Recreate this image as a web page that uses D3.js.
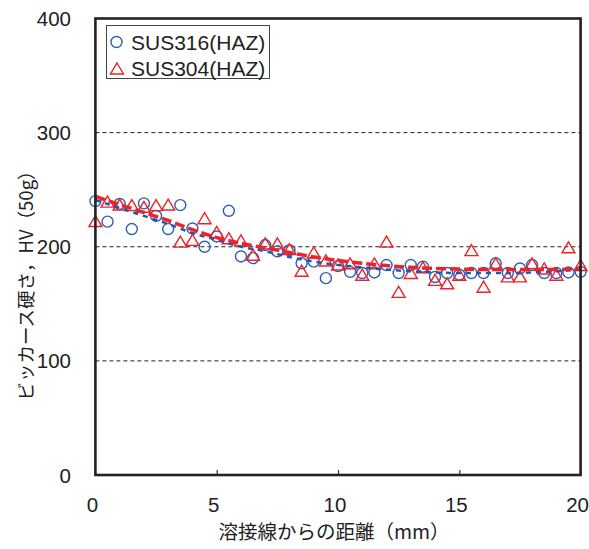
<!DOCTYPE html>
<html><head><meta charset="utf-8">
<script src="https://cdn.jsdelivr.net/npm/d3@7"></script>
<style>body{margin:0;background:#fff}svg{display:block}</style>
</head><body>
<svg id="c" width="589" height="549"></svg>
<script>
// distances (mm) of measurement points
const distances = d3.range(0, 41).map(i => i * 0.5);
const sus316 = [240,222,237.5,215.5,238,227,215.5,236.5,216,200,209,231.5,191.5,190,201.5,196,197,185.5,187,172.5,183,178,177,177.5,184,177,184,182.5,173.5,177,175.5,177,177,185.5,177,181,184,177,177,177.5,178];
const sus304 = [222.5,239.5,237,236.5,235,236.5,237,204.5,206,225,213,207.5,205.5,193,203,203,198,179,195,188,184.5,185.5,175.5,185.5,204.5,160.5,177,182,171,168,175.5,197,165,185.5,174,174,185.5,181,175.5,199.5,184];
// trend lines
const trendX = d3.range(0, 21);
const trend316 = [241,234,227,220,212,206,200,196,191,187,184,182,180,178.5,177.5,177,177,177,177.5,178.5,180];
const trend304 = [244,237,230,223,215,208,203,199,195,191,188,185.5,183.5,182,181,180.5,180,180,180,180,181];
const xTicks = [0,5,10,15,20];
const yTicks = [0,100,200,300,400];
const seriesNames = ["SUS316(HAZ)","SUS304(HAZ)"];
const xTitle = "溶接線からの距離（mm）";
const yTitle = "ビッカース硬さ，HV（50g）";

const blue = "#2f5fb3", red = "#ec2328";
const svg = d3.select("#c");
const x = d3.scaleLinear().domain([0,20]).range([95.4,580.6]);
const y = d3.scaleLinear().domain([0,400]).range([475,18.5]);
const numFont = "'Liberation Sans', Arial, sans-serif";
const cjkFont = "'Noto Sans CJK JP', sans-serif";

// grid
svg.append("g").selectAll("line").data([100,200,300]).join("line")
  .attr("x1", x(0)).attr("x2", x(20)).attr("y1", d => y(d)).attr("y2", d => y(d))
  .attr("stroke", "#222").attr("stroke-width", 1).attr("stroke-dasharray", "4,3");

// x axis ticks (inside)
const xAxis = d3.axisBottom(x).tickValues([5,10,15]).tickSize(-5).tickFormat("");
const gx = svg.append("g").attr("transform", `translate(0,${y(0)})`).call(xAxis);
gx.select(".domain").remove();
gx.selectAll("line").attr("stroke", "#333").attr("stroke-width", 1.2);

// tick labels
svg.append("g").selectAll("text").data(xTicks).join("text")
  .attr("x", d => x(d) - 3).attr("y", 512)
  .attr("text-anchor", "middle").attr("font-family", numFont).attr("font-size", 20.5)
  .attr("fill", "#222").text(d => d);
svg.append("g").selectAll("text").data(yTicks).join("text")
  .attr("x", 71).attr("y", d => y(d) + 7.5)
  .attr("text-anchor", "end").attr("font-family", numFont).attr("font-size", 20.5)
  .attr("fill", "#222").text(d => d);

// markers
svg.append("g").selectAll("circle").data(distances).join("circle")
  .attr("cx", d => x(d)).attr("cy", (d,i) => y(sus316[i])).attr("r", 5.5)
  .attr("fill", "none").attr("stroke", blue).attr("stroke-width", 1.4);
const tri = "M0,-5.5L6.5,5.5L-6.5,5.5Z";
svg.append("g").selectAll("path").data(distances).join("path")
  .attr("transform", (d,i) => `translate(${x(d)},${y(sus304[i])})`).attr("d", tri)
  .attr("fill", "none").attr("stroke", red).attr("stroke-width", 1.4);

// trend lines
const line = arr => d3.line().x((d,i) => x(trendX[i])).y((d) => y(d)).curve(d3.curveMonotoneX)(arr);
svg.append("path").attr("d", line(trend316)).attr("fill","none")
  .attr("stroke", "#2356b0").attr("stroke-width", 2.5).attr("stroke-dasharray", "5,5");
svg.append("path").attr("d", line(trend304)).attr("fill","none")
  .attr("stroke", red).attr("stroke-width", 3.5).attr("stroke-dasharray", "10,4");

// frame
svg.append("rect").attr("x", x(0)).attr("y", y(400)).attr("width", x(20)-x(0)).attr("height", y(0)-y(400))
  .attr("fill","none").attr("stroke","#222").attr("stroke-width", 2.6);

// legend
const lg = svg.append("g");
lg.append("rect").attr("x", 106.5).attr("y", 25.5).attr("width", 163).attr("height", 53)
  .attr("fill", "#fff").attr("stroke", "#444").attr("stroke-width", 1);
lg.append("circle").attr("cx", 116.5).attr("cy", 42).attr("r", 5.5)
  .attr("fill","none").attr("stroke", blue).attr("stroke-width", 1.4);
lg.append("path").attr("transform","translate(117,68.5)").attr("d", tri)
  .attr("fill","none").attr("stroke", red).attr("stroke-width", 1.4);
lg.selectAll("text").data(seriesNames).join("text")
  .attr("x", 131).attr("y", (d,i) => 49.5 + i*26.5)
  .attr("font-family", numFont).attr("font-size", 21).attr("fill", "#222").text(d => d);

// axis titles
svg.append("text").attr("x", 334).attr("y", 539).attr("text-anchor","middle")
  .attr("font-family", cjkFont).attr("font-size", 19.5).attr("fill","#222").text(xTitle);
svg.append("text").attr("transform","translate(33,281) rotate(-90)").attr("text-anchor","middle")
  .attr("font-family", cjkFont).attr("font-size", 18.5).attr("fill","#222").text(yTitle);
</script>
</body></html>
